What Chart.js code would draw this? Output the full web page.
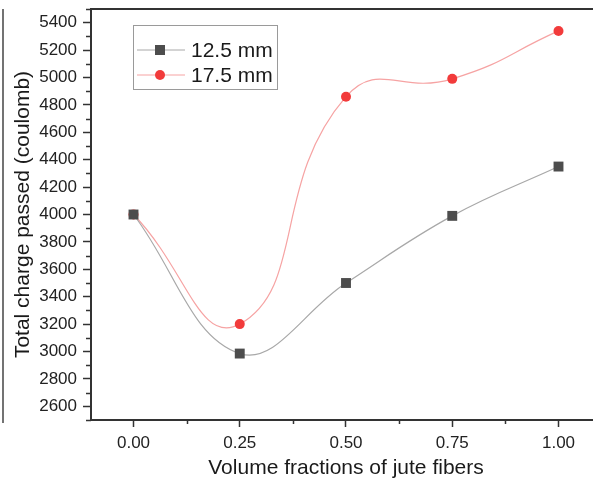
<!DOCTYPE html>
<html>
<head>
<meta charset="utf-8">
<script src="https://cdn.jsdelivr.net/npm/chart.js@4"></script>
<style>
  html, body { margin: 0; padding: 0; background: #fff; overflow: hidden; }
  #wrap { width: 608px; height: 484px; }
</style>
</head>
<body>
<div id="wrap"><canvas id="grafico" width="608" height="484"></canvas></div>
<script>
// datos
const fracciones = [0, 0.25, 0.5, 0.75, 1.0]
const serie125 = [4000, 2985, 3500, 3990, 4350]
const serie175 = [4000, 3200, 4860, 4990, 5340]
const etiquetas = ['12.5 mm', '17.5 mm']
const ticksX = [0, 0.25, 0.5, 0.75, 1.0]
const ticksY = [2600, 2800, 3000, 3200, 3400, 3600, 3800, 4000, 4200, 4400, 4600, 4800, 5000, 5200, 5400]

const fuente = "'Liberation Sans', Arial, sans-serif"
const ejeColor = '#333333'

const puntos = (ys) => fracciones.map((x, i) => ({ x: x, y: ys[i] }))

// marcas menores, borde del area y leyenda
const extras = {
    id: 'extras',
    afterDraw(chart) {
        const c = chart.ctx
        const area = chart.chartArea
        const sx = chart.scales.x
        const sy = chart.scales.y
        c.save()
        c.strokeStyle = ejeColor
        c.lineWidth = 1.5
        // minor ticks x
        for (let v = 0.125; v < 1.1; v += 0.25) {
            const px = Math.round(sx.getPixelForValue(v)) + 0.5
            c.beginPath(); c.moveTo(px, area.bottom); c.lineTo(px, area.bottom + 4); c.stroke()
        }
        // minor ticks y
        for (let v = 2500; v <= 5500; v += 200) {
            const py = Math.round(sy.getPixelForValue(v)) + 0.5
            c.beginPath(); c.moveTo(area.left, py); c.lineTo(area.left - 5, py); c.stroke()
        }
        // top and right frame
        c.lineWidth = 2
        c.beginPath()
        c.moveTo(area.left, area.top)
        c.lineTo(area.right, area.top)
        c.lineTo(area.right, area.bottom)
        c.stroke()
        // left border line of the cropped figure
        c.lineWidth = 1.5
        c.strokeStyle = '#444'
        c.beginPath(); c.moveTo(3, area.top); c.lineTo(3, area.bottom + 3); c.stroke()

        // legend
        const lx = 133, ly = 25, lw = 144, lh = 64
        c.strokeStyle = '#9a9a9a'
        c.lineWidth = 1
        c.strokeRect(lx + 0.5, ly + 0.5, lw, lh)
        chart.data.datasets.forEach((ds, i) => {
            const y = [50, 75][i]
            c.strokeStyle = ds.borderColor
            c.lineWidth = 1
            c.beginPath(); c.moveTo(137, y); c.lineTo(185, y); c.stroke()
            c.fillStyle = ds.pointBackgroundColor
            if (ds.pointStyle === 'rect') {
                c.fillRect(155, y - 5, 10, 10)
            } else {
                c.beginPath(); c.arc(160, y, 5, 0, Math.PI * 2); c.fill()
            }
            c.fillStyle = '#1a1a1a'
            c.font = '21px ' + fuente
            c.textBaseline = 'middle'
            c.fillText(ds.label, 191, y + 1)
        })
        c.restore()
    }
}

const ctx = document.getElementById('grafico')
let grafico = new Chart(ctx, {
    type: 'line',
    data: {
        datasets: [{
            label: etiquetas[0],
            data: puntos(serie125),
            borderColor: '#a8a8a8',
            borderWidth: 1.2,
            tension: 0.4,
            pointStyle: 'rect',
            pointRadius: 7,
            pointBackgroundColor: '#4d4d4d',
            pointBorderColor: '#4d4d4d',
            pointBorderWidth: 0
        }, {
            label: etiquetas[1],
            data: puntos(serie175),
            borderColor: '#f6a3a3',
            borderWidth: 1.2,
            tension: 0.5,
            pointStyle: 'circle',
            pointRadius: 5,
            pointBackgroundColor: '#f23b3b',
            pointBorderColor: '#f23b3b',
            pointBorderWidth: 0
        }]
    },
    options: {
        responsive: false,
        animation: false,
        devicePixelRatio: 1,
        layout: { padding: { top: 9, left: 0, right: 0, bottom: 0 } },
        plugins: { legend: { display: false }, tooltip: { enabled: false } },
        scales: {
            x: {
                type: 'linear',
                min: -0.1,
                max: 1.1,
                afterBuildTicks: (s) => { s.ticks = ticksX.map(v => ({ value: v })) },
                afterFit: (s) => { s.height = 64; s.paddingLeft = 0; s.paddingRight = 0 },
                ticks: {
                    color: '#222',
                    padding: 6,
                    font: { family: fuente, size: 17 },
                    callback: (v) => v.toFixed(2)
                },
                grid: { drawOnChartArea: false, tickLength: 7, tickColor: ejeColor, tickWidth: 1.5 },
                border: { color: ejeColor, width: 2 },
                title: {
                    display: true,
                    text: 'Volume fractions of jute fibers',
                    color: '#1a1a1a',
                    font: { family: fuente, size: 21 },
                    padding: { top: 0, bottom: 3 }
                }
            },
            y: {
                min: 2500,
                max: 5500,
                afterBuildTicks: (s) => { s.ticks = ticksY.map(v => ({ value: v })) },
                afterFit: (s) => { s.width = 91; s.paddingTop = 0; s.paddingBottom = 0 },
                ticks: {
                    color: '#222',
                    padding: 6,
                    font: { family: fuente, size: 17 },
                    callback: (v) => String(v)
                },
                grid: { drawOnChartArea: false, tickLength: 8, tickColor: ejeColor, tickWidth: 1.5 },
                border: { color: ejeColor, width: 2 },
                title: {
                    display: true,
                    text: 'Total charge passed (coulomb)',
                    color: '#1a1a1a',
                    font: { family: fuente, size: 21 },
                    padding: { top: 11, bottom: 0 }
                }
            }
        }
    },
    plugins: [extras]
})
</script>
</body>
</html>
